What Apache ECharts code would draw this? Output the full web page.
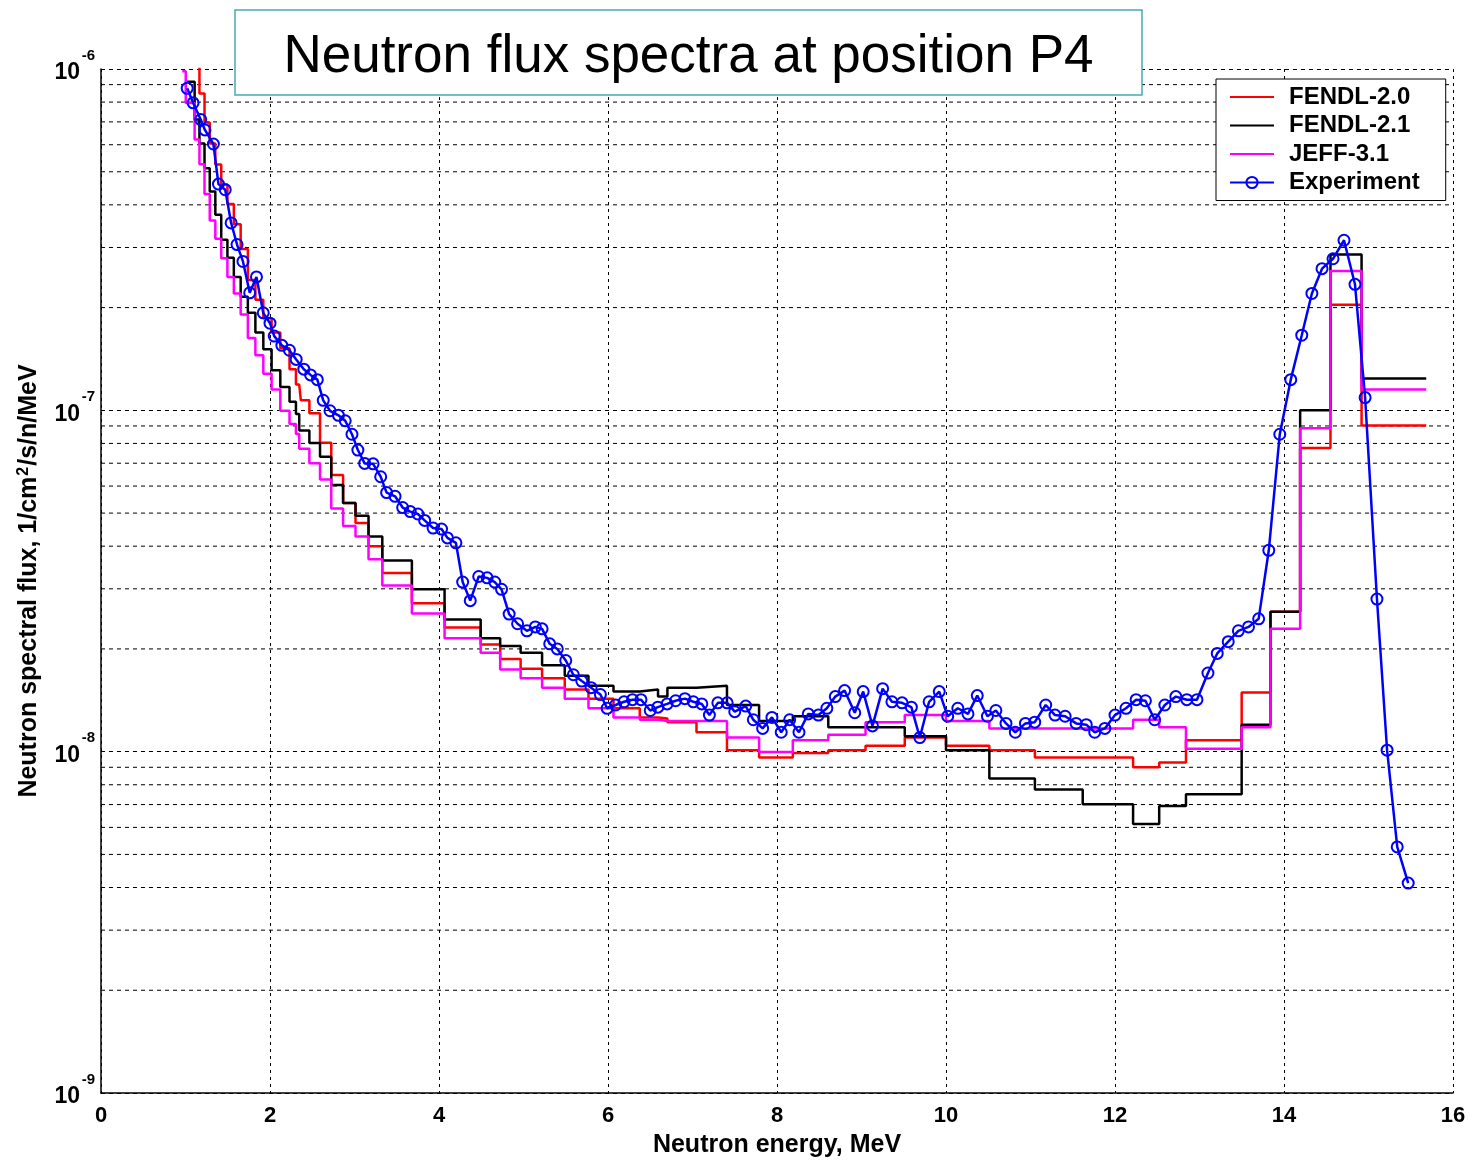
<!DOCTYPE html>
<html><head><meta charset="utf-8">
<script src="https://cdn.jsdelivr.net/npm/echarts@6/dist/echarts.min.js"></script>
<style>html,body{margin:0;padding:0;background:#fff}#c{width:1469px;height:1163px}</style>
</head><body><div id="c"></div>
<script>
// Group boundaries (MeV) of the calculated histograms
const EDGES = [0.962, 1.003, 1.108, 1.165, 1.225, 1.287, 1.353, 1.423, 1.496, 1.572, 1.653, 1.738, 1.827, 1.921, 2.019, 2.122, 2.231, 2.307, 2.346, 2.365, 2.385, 2.466, 2.592, 2.725, 2.865, 3.012, 3.166, 3.329, 3.679, 4.066, 4.493, 4.724, 4.966, 5.220, 5.488, 5.769, 6.065, 6.376, 6.592, 6.703, 7.047, 7.408, 7.788, 8.187, 8.607, 9.048, 9.512, 10.000, 10.513, 11.052, 11.618, 12.214, 12.523, 12.840, 13.499, 13.840, 14.191, 14.550, 14.918, 15.683];

// Group fluxes, one per group (null = not drawn)
const FENDL20 = [null, null, 1.15e-6, 8.48e-7, 6.97e-7, 6.05e-7, 5.25e-7, 4.59e-7, 4.02e-7, 3.51e-7, 2.97e-7, 2.41e-7, 2.11e-7, 1.86e-7, 1.69e-7, 1.52e-7, 1.32e-7, 1.19e-7, 1.19e-7, 1.07e-7, 1.07e-7, 9.80e-8, 8.04e-8, 6.46e-8, 5.35e-8, 4.68e-8, 4.00e-8, 3.34e-8, 2.72e-8, 2.31e-8, 2.06e-8, 1.87e-8, 1.75e-8, 1.64e-8, 1.52e-8, 1.43e-8, 1.34e-8, 1.26e-8, 1.25e-8, 1.22e-8, 1.14e-8, 1.01e-8, 9.62e-9, 9.91e-9, 1.01e-8, 1.04e-8, 1.10e-8, 1.04e-8, 1.01e-8, 9.62e-9, 9.62e-9, 9.00e-9, 9.29e-9, 1.08e-8, 1.49e-8, 2.57e-8, 7.75e-8, 2.04e-7, 9.02e-8];

const FENDL21 = [null, 9.17e-7, 7.11e-7, 6.05e-7, 5.12e-7, 4.38e-7, 3.74e-7, 3.16e-7, 2.80e-7, 2.46e-7, 2.15e-7, 1.93e-7, 1.69e-7, 1.51e-7, 1.31e-7, 1.17e-7, 1.06e-7, 9.75e-8, 8.73e-8, 8.73e-8, 8.73e-8, 8.02e-8, 7.31e-8, 6.04e-8, 5.35e-8, 4.91e-8, 4.27e-8, 3.63e-8, 2.99e-8, 2.44e-8, 2.15e-8, 2.04e-8, 1.95e-8, 1.79e-8, 1.67e-8, 1.56e-8, 1.50e-8, 1.52e-8, 1.45e-8, 1.54e-8, 1.56e-8, 1.37e-8, 1.23e-8, 1.27e-8, 1.18e-8, 1.18e-8, 1.11e-8, 1.01e-8, 8.35e-9, 7.75e-9, 7.01e-9, 6.14e-9, 6.93e-9, 7.50e-9, 1.20e-8, 2.57e-8, 1.00e-7, 2.86e-7, 1.24e-7];

const JEFF31 = [9.85e-7, 7.95e-7, 6.22e-7, 5.26e-7, 4.30e-7, 3.60e-7, 3.18e-7, 2.79e-7, 2.46e-7, 2.20e-7, 1.91e-7, 1.63e-7, 1.45e-7, 1.28e-7, 1.15e-7, 9.98e-8, 9.12e-8, 8.53e-8, 7.72e-8, 7.72e-8, 7.72e-8, 7.00e-8, 6.27e-8, 5.16e-8, 4.58e-8, 4.27e-8, 3.66e-8, 3.07e-8, 2.54e-8, 2.15e-8, 1.95e-8, 1.74e-8, 1.64e-8, 1.54e-8, 1.43e-8, 1.34e-8, 1.26e-8, 1.24e-8, 1.23e-8, 1.23e-8, 1.23e-8, 1.10e-8, 9.98e-9, 1.08e-8, 1.12e-8, 1.22e-8, 1.28e-8, 1.23e-8, 1.17e-8, 1.17e-8, 1.17e-8, 1.24e-8, 1.18e-8, 1.02e-8, 1.18e-8, 2.29e-8, 8.86e-8, 2.56e-7, 1.15e-7];

// Measured spectrum
const EXP_E = [1.02, 1.09, 1.18, 1.23, 1.33, 1.39, 1.47, 1.54, 1.61, 1.68, 1.76, 1.84, 1.92, 2.00, 2.05, 2.14, 2.23, 2.31, 2.40, 2.48, 2.56, 2.63, 2.71, 2.81, 2.89, 2.97, 3.04, 3.12, 3.22, 3.31, 3.38, 3.48, 3.57, 3.66, 3.75, 3.83, 3.93, 4.03, 4.10, 4.20, 4.28, 4.37, 4.47, 4.57, 4.66, 4.74, 4.83, 4.93, 5.04, 5.14, 5.22, 5.31, 5.40, 5.50, 5.59, 5.69, 5.80, 5.91, 5.99, 6.09, 6.19, 6.29, 6.39, 6.50, 6.59, 6.70, 6.80, 6.91, 7.01, 7.11, 7.20, 7.30, 7.41, 7.50, 7.63, 7.72, 7.83, 7.94, 8.05, 8.15, 8.26, 8.37, 8.49, 8.59, 8.69, 8.80, 8.92, 9.02, 9.13, 9.25, 9.36, 9.48, 9.59, 9.69, 9.80, 9.92, 10.02, 10.14, 10.26, 10.37, 10.49, 10.59, 10.71, 10.82, 10.94, 11.05, 11.18, 11.29, 11.41, 11.54, 11.66, 11.76, 11.88, 12.00, 12.13, 12.25, 12.36, 12.47, 12.59, 12.72, 12.85, 12.97, 13.10, 13.21, 13.34, 13.46, 13.58, 13.70, 13.82, 13.95, 14.08, 14.21, 14.33, 14.45, 14.58, 14.71, 14.84, 14.96, 15.10, 15.22, 15.34, 15.47];
const EXP_FLUX = [8.78e-7, 7.96e-7, 7.11e-7, 6.63e-7, 6.03e-7, 4.60e-7, 4.43e-7, 3.54e-7, 3.06e-7, 2.73e-7, 2.21e-7, 2.46e-7, 1.93e-7, 1.80e-7, 1.65e-7, 1.55e-7, 1.50e-7, 1.41e-7, 1.32e-7, 1.27e-7, 1.23e-7, 1.07e-7, 9.97e-8, 9.67e-8, 9.32e-8, 8.51e-8, 7.65e-8, 6.99e-8, 6.97e-8, 6.39e-8, 5.74e-8, 5.60e-8, 5.19e-8, 5.05e-8, 4.97e-8, 4.76e-8, 4.52e-8, 4.49e-8, 4.23e-8, 4.09e-8, 3.14e-8, 2.77e-8, 3.26e-8, 3.23e-8, 3.14e-8, 2.99e-8, 2.53e-8, 2.37e-8, 2.26e-8, 2.32e-8, 2.29e-8, 2.07e-8, 2.00e-8, 1.85e-8, 1.68e-8, 1.61e-8, 1.54e-8, 1.47e-8, 1.34e-8, 1.37e-8, 1.40e-8, 1.42e-8, 1.42e-8, 1.32e-8, 1.35e-8, 1.38e-8, 1.41e-8, 1.43e-8, 1.40e-8, 1.38e-8, 1.28e-8, 1.39e-8, 1.39e-8, 1.31e-8, 1.36e-8, 1.24e-8, 1.17e-8, 1.26e-8, 1.14e-8, 1.24e-8, 1.14e-8, 1.29e-8, 1.28e-8, 1.34e-8, 1.45e-8, 1.51e-8, 1.30e-8, 1.50e-8, 1.19e-8, 1.53e-8, 1.40e-8, 1.39e-8, 1.35e-8, 1.10e-8, 1.40e-8, 1.50e-8, 1.27e-8, 1.34e-8, 1.29e-8, 1.46e-8, 1.27e-8, 1.32e-8, 1.21e-8, 1.14e-8, 1.21e-8, 1.22e-8, 1.37e-8, 1.28e-8, 1.27e-8, 1.21e-8, 1.20e-8, 1.14e-8, 1.17e-8, 1.28e-8, 1.34e-8, 1.42e-8, 1.41e-8, 1.24e-8, 1.37e-8, 1.45e-8, 1.42e-8, 1.42e-8, 1.70e-8, 1.94e-8, 2.10e-8, 2.26e-8, 2.32e-8, 2.45e-8, 3.89e-8, 8.51e-8, 1.23e-7, 1.66e-7, 2.20e-7, 2.60e-7, 2.78e-7, 3.15e-7, 2.34e-7, 1.09e-7, 2.80e-8, 1.01e-8, 5.26e-9, 4.12e-9];

// Minor (2..9 x 10^n) horizontal grid positions
const MINOR_GRID = [2e-9, 3e-9, 4e-9, 5e-9, 6e-9, 7e-9, 8e-9, 9e-9, 2e-8, 3e-8, 4e-8, 5e-8, 6e-8, 7e-8, 8e-8, 9e-8, 2e-7, 3e-7, 4e-7, 5e-7, 6e-7, 7e-7, 8e-7, 9e-7];
const X_MIN = 0, X_MAX = 16;

const SERIES_NAMES = ['FENDL-2.0', 'FENDL-2.1', 'JEFF-3.1', 'Experiment'];
const TITLE = 'Neutron flux spectra at position P4';

function stepData(vals) {
  const d = [];
  let last = -1;
  for (let i = 0; i < vals.length; i++) {
    if (vals[i] != null) { d.push([EDGES[i], vals[i]]); last = i; }
  }
  d.push([EDGES[last + 1], vals[last]]);
  return d;
}

const FONT = '"Liberation Sans", Arial, sans-serif';
const chart = echarts.init(document.getElementById('c'), null, {renderer: 'canvas'});

function stepSeries(name, vals, color, z) {
  return {
    name: name, type: 'line', step: 'end', data: stepData(vals),
    symbol: 'none', showSymbol: false, z: z,
    lineStyle: {color: color, width: 2.5},
    itemStyle: {color: color},
    emphasis: {disabled: true}
  };
}

const gridSeries = MINOR_GRID.map(v => ({
  type: 'line', silent: true, z: 1, symbol: 'none', showSymbol: false,
  data: [[X_MIN, v], [X_MAX, v]],
  lineStyle: {color: '#000', width: 1, type: [4, 4]},
  emphasis: {disabled: true}, tooltip: {show: false}
}));

const option = {
  animation: false,
  backgroundColor: '#fff',
  grid: {left: 101, top: 69, width: 1352, height: 1032, containLabel: false},
  xAxis: {
    type: 'value', min: X_MIN, max: X_MAX, interval: 2,
    axisLine: {show: true, onZero: false, lineStyle: {color: '#000', width: 1.5}},
    axisTick: {show: false},
    axisLabel: {color: '#000', fontFamily: FONT, fontWeight: 'bold', fontSize: 22, margin: 12},
    splitLine: {show: true, lineStyle: {color: '#000', width: 1, type: [3, 4]}},
    name: 'Neutron energy, MeV', nameLocation: 'middle', nameGap: 40,
    nameTextStyle: {color: '#000', fontFamily: FONT, fontWeight: 'bold', fontSize: 25}
  },
  yAxis: {
    type: 'log', logBase: 10, min: 1e-9, max: 1e-6, splitNumber: 3,
    axisLine: {show: true, lineStyle: {color: '#000', width: 1.5}},
    axisTick: {show: false},
    axisLabel: {
      margin: 6,
      formatter: function (v) {
        const e = Math.round(Math.log10(v));
        return '{s|' + e + '}\n{b|10}';
      },
      rich: {
        s: {color: '#000', fontFamily: FONT, fontWeight: 'bold', fontSize: 15, lineHeight: 8, align: 'right'},
        b: {color: '#000', fontFamily: FONT, fontWeight: 'bold', fontSize: 23, lineHeight: 27, align: 'right', padding: [0, 15, 0, 0]}
      }
    },
    splitLine: {show: true, lineStyle: {color: '#000', width: 1, type: [4, 4]}},
    name: '{n|Neutron spectral flux, 1/cm}{s|2}{n|/s/n/MeV}',
    nameLocation: 'middle', nameRotate: 90, nameGap: 55,
    nameTextStyle: {
      rich: {
        n: {color: '#000', fontFamily: FONT, fontWeight: 'bold', fontSize: 25, lineHeight: 26, verticalAlign: 'bottom'},
        s: {color: '#000', fontFamily: FONT, fontWeight: 'bold', fontSize: 16, lineHeight: 16, verticalAlign: 'top', padding: [0, 1, 12, 1]}
      }
    }
  },
  legend: {
    data: [
      {name: SERIES_NAMES[0], itemStyle: {opacity: 0}},
      {name: SERIES_NAMES[1], itemStyle: {opacity: 0}},
      {name: SERIES_NAMES[2], itemStyle: {opacity: 0}},
      {name: SERIES_NAMES[3]}
    ],
    orient: 'vertical', left: 1216, top: 79,
    padding: [6, 26, 6, 13], itemGap: 4.5, itemWidth: 44, itemHeight: 14,
    borderColor: '#000', borderWidth: 1, backgroundColor: '#fff',
    textStyle: {color: '#000', fontFamily: FONT, fontWeight: 'bold', fontSize: 24, lineHeight: 24, padding: [0, 0, 0, 10]},
    selectedMode: false
  },
  graphic: [
    {type: 'rect', z: 100, zlevel: 1, shape: {x: 235, y: 10, width: 907, height: 85},
     style: {fill: '#fff', stroke: '#46AAB0', lineWidth: 1.5}},
    {type: 'text', z: 101, zlevel: 1, x: 688.5, y: 57,
     style: {text: TITLE, font: 'normal 53px ' + FONT, fill: '#000', align: 'center', verticalAlign: 'middle'}}
  ],
  series: gridSeries.concat([
    stepSeries(SERIES_NAMES[0], FENDL20, '#ff0000', 3),
    stepSeries(SERIES_NAMES[1], FENDL21, '#000000', 4),
    stepSeries(SERIES_NAMES[2], JEFF31, '#ff00ff', 5),
    {
      name: SERIES_NAMES[3], type: 'line', z: 6,
      data: EXP_E.map((e, i) => [e, EXP_FLUX[i]]),
      symbol: 'circle', symbolSize: 11,
      lineStyle: {color: '#0000ff', width: 2.5},
      itemStyle: {color: 'rgba(255,255,255,0)', borderColor: '#0000ff', borderWidth: 2},
      emphasis: {disabled: true}
    }
  ])
};
chart.setOption(option);
</script>
</body></html>
